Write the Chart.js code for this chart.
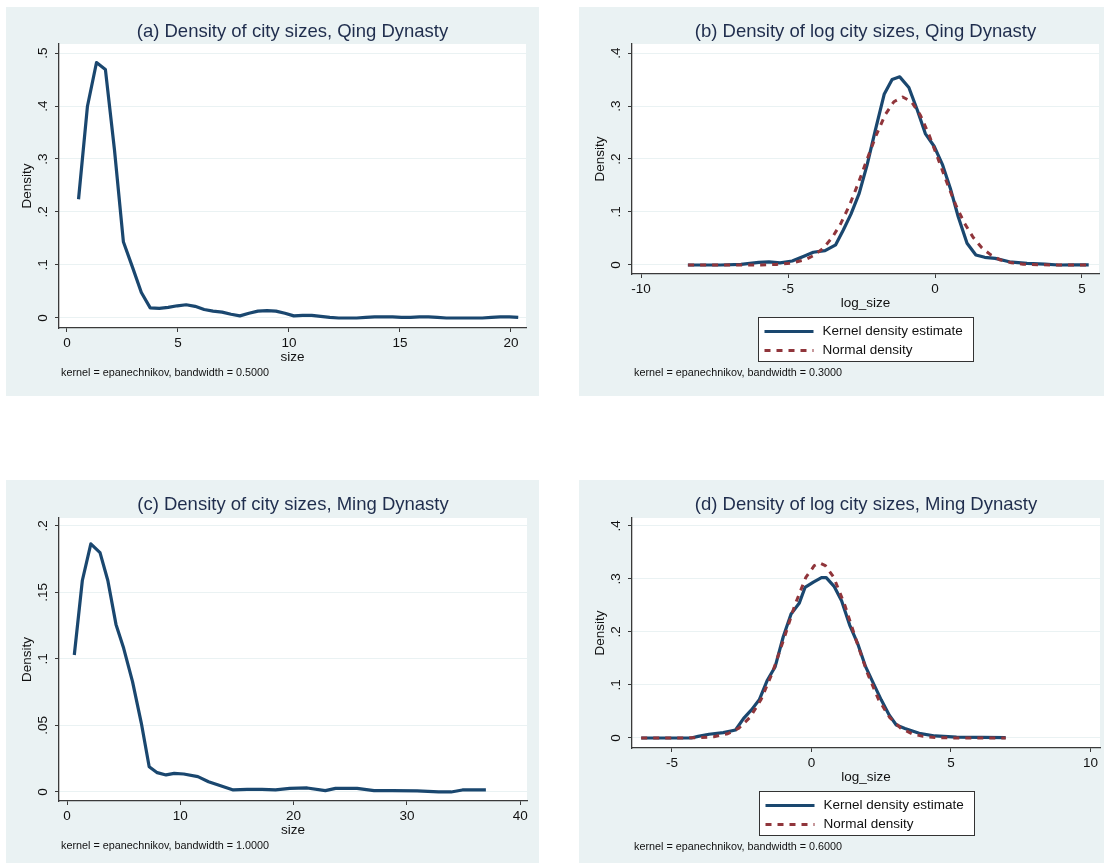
<!DOCTYPE html>
<html>
<head>
<meta charset="utf-8">
<title>Density of city sizes, Qing and Ming</title>
<script src="https://cdn.jsdelivr.net/npm/chart.js@4.4.1/dist/chart.umd.min.js"></script>
<style>
  body { margin: 0; background: #fff; }
  #page { position: relative; width: 1104px; height: 864px; }
  canvas { position: absolute; }
</style>
</head>
<body>
<div id="page">
  <canvas id="qingSize" width="533" height="389" style="left:6px;top:7px"></canvas>
  <canvas id="qingLog" width="525" height="389" style="left:579px;top:7px"></canvas>
  <canvas id="mingSize" width="533" height="383" style="left:6px;top:480px"></canvas>
  <canvas id="mingLog" width="525" height="383" style="left:579px;top:480px"></canvas>
</div>
<script>
// (a) Qing, city size
const qingSizeX = [0.52, 0.92, 1.33, 1.73, 2.14, 2.54, 2.95, 3.35, 3.75, 4.16, 4.56, 4.97, 5.37, 5.77, 6.18, 6.58, 6.99, 7.39, 7.79, 8.20, 8.60, 9.01, 9.41, 9.82, 10.22, 10.62, 11.03, 11.43, 11.84, 12.24, 12.65, 13.05, 13.46, 13.86, 14.26, 14.67, 15.07, 15.48, 15.88, 16.29, 16.69, 17.09, 17.50, 17.90, 18.31, 18.71, 19.12, 19.52, 19.93, 20.33];
const qingSizeDensity = [0.224, 0.399, 0.482, 0.469, 0.317, 0.144, 0.096, 0.048, 0.019, 0.018, 0.020, 0.023, 0.025, 0.022, 0.016, 0.013, 0.011, 0.007, 0.004, 0.009, 0.013, 0.014, 0.013, 0.009, 0.004, 0.005, 0.005, 0.003, 0.001, 0.000, 0.000, 0.000, 0.001, 0.002, 0.002, 0.002, 0.001, 0.001, 0.002, 0.002, 0.001, 0.000, 0.000, 0.000, 0.000, 0.000, 0.001, 0.002, 0.002, 0.001];
const qingSizeXTicks = [0, 5, 10, 15, 20];
const qingSizeYTicks = [0, 0.1, 0.2, 0.3, 0.4, 0.5];

// (b) Qing, log city size
const qingLogX = [-8.41, -7.93, -7.3, -6.6, -6.0, -5.65, -5.27, -4.86, -4.44, -4.14, -3.74, -3.38, -3.12, -2.86, -2.58, -2.31, -2.04, -1.73, -1.46, -1.2, -0.89, -0.6, -0.33, -0.03, 0.25, 0.52, 0.79, 1.09, 1.39, 1.69, 2.05, 2.53, 3.13, 3.73, 4.21, 4.69, 5.23];
const qingLogKernel = [0, 0, 0, 0.001, 0.005, 0.006, 0.004, 0.0075, 0.017, 0.024, 0.027, 0.038, 0.066, 0.096, 0.135, 0.189, 0.252, 0.322, 0.350, 0.355, 0.335, 0.292, 0.248, 0.224, 0.190, 0.145, 0.091, 0.041, 0.019, 0.0145, 0.0125, 0.006, 0.003, 0.0015, 0, 0.0003, 0.0003];
const qingNormX = [-8.4, -7.4, -6.4, -5.9, -5.4, -4.9, -4.4, -4.1, -3.8, -3.5, -3.2, -2.9, -2.6, -2.3, -2.0, -1.7, -1.4, -1.1, -0.8, -0.5, -0.2, 0.1, 0.4, 0.7, 1.0, 1.3, 1.6, 1.9, 2.2, 2.6, 3.0, 3.5, 4.0, 4.5, 5.2];
const qingNormal = [0, 0, 0, 0.0002, 0.001, 0.0033, 0.0102, 0.0186, 0.032, 0.0516, 0.0788, 0.114, 0.156, 0.201, 0.245, 0.283, 0.308, 0.317, 0.308, 0.283, 0.245, 0.201, 0.156, 0.114, 0.079, 0.052, 0.032, 0.019, 0.010, 0.0042, 0.0016, 0.0004, 0.0001, 0, 0];
const qingLogXTicks = [-10, -5, 0, 5];
const qingLogYTicks = [0, 0.1, 0.2, 0.3, 0.4];

// (c) Ming, city size
const mingSizeX = [0.64, 1.35, 2.1, 2.91, 3.6, 4.32, 5.0, 5.78, 6.56, 7.25, 7.96, 8.74, 9.46, 10.3, 11.55, 12.49, 13.42, 14.67, 15.9, 17.2, 18.4, 19.66, 21.2, 22.8, 23.7, 25.6, 27.1, 28.7, 30.9, 32.8, 33.9, 34.9, 36.97];
const mingSizeDensity = [0.103, 0.159, 0.1865, 0.180, 0.159, 0.126, 0.108, 0.083, 0.0516, 0.019, 0.0145, 0.0128, 0.014, 0.0135, 0.0115, 0.0077, 0.005, 0.0015, 0.0019, 0.002, 0.0015, 0.0027, 0.003, 0.001, 0.0027, 0.0027, 0.001, 0.001, 0.0008, 0, 0, 0.0015, 0.0015];
const mingSizeXTicks = [0, 10, 20, 30, 40];
const mingSizeYTicks = [0, 0.05, 0.1, 0.15, 0.2];

// (d) Ming, log city size
const mingLogX = [-6.1, -4.31, -4.06, -3.67, -3.16, -2.72, -2.43, -2.15, -1.87, -1.58, -1.3, -1.01, -0.73, -0.44, -0.23, 0.07, 0.36, 0.53, 0.82, 1.08, 1.37, 1.65, 1.94, 2.22, 2.5, 2.79, 3.04, 3.35, 3.86, 4.43, 5.2, 6.08, 6.96];
const mingLogKernel = [0, 0, 0.003, 0.007, 0.010, 0.015, 0.037, 0.053, 0.072, 0.109, 0.1345, 0.191, 0.234, 0.254, 0.284, 0.294, 0.3025, 0.3025, 0.2855, 0.259, 0.213, 0.179, 0.1345, 0.103, 0.072, 0.043, 0.0245, 0.018, 0.0088, 0.0038, 0.0015, 0.001, 0.0006];
const mingNormX = [-6.1, -5.0, -4.5, -4.0, -3.5, -3.0, -2.6, -2.2, -1.8, -1.4, -1.0, -0.6, -0.2, 0.1, 0.3, 0.5, 0.8, 1.2, 1.6, 2.0, 2.4, 2.8, 3.2, 3.6, 4.0, 4.5, 5.0, 5.5, 6.0, 6.96];
const mingNormal = [0, 0, 0.0001, 0.0006, 0.0024, 0.008, 0.0186, 0.039, 0.073, 0.123, 0.185, 0.250, 0.303, 0.325, 0.330, 0.325, 0.303, 0.250, 0.185, 0.123, 0.073, 0.039, 0.0186, 0.008, 0.0031, 0.0008, 0.0002, 0, 0, 0];
const mingLogXTicks = [-5, 0, 5, 10];
const mingLogYTicks = [0, 0.1, 0.2, 0.3, 0.4];

const KERNEL_COLOR = '#1a476f';
const NORMAL_COLOR = '#90353b';
const PANEL_BG = '#eaf2f3';
const GRID_COLOR = '#eaf2f3';
const AXIS_COLOR = '#3a3a3a';
const TEXT_COLOR = '#111';
const TITLE_COLOR = '#1f2d4d';
const FONT = '"Liberation Sans", Arial, sans-serif';

Chart.defaults.font.family = FONT;
Chart.defaults.color = TEXT_COLOR;

const toPoints = (xs, ys) => xs.map((x, i) => ({ x: x, y: ys[i] }));

// grey panel, white plot region, boxed legend and kernel note
const panelPlugin = {
    id: 'stataPanel',
    beforeDraw(chart) {
        const { ctx, chartArea: a } = chart;
        ctx.save();
        ctx.fillStyle = PANEL_BG;
        ctx.fillRect(0, 0, chart.width, chart.height);
        ctx.fillStyle = '#fff';
        ctx.fillRect(a.left, a.top, a.right - a.left, a.bottom - a.top);
        ctx.restore();
    },
    afterDraw(chart, args, opts) {
        const { ctx, chartArea: a } = chart;
        ctx.save();
        let noteY = a.bottom + 45;
        if (opts.legend) {
            const w = 215, h = 44;
            const left = Math.round((a.left + a.right) / 2 - w / 2) + 0.5;
            const top = Math.round(a.bottom + 43) + 0.5;
            ctx.fillStyle = '#fff';
            ctx.fillRect(left, top, w, h);
            ctx.strokeStyle = '#333';
            ctx.lineWidth = 1;
            ctx.strokeRect(left, top, w, h);
            chart.data.datasets.forEach((ds, i) => {
                const y = top + 14 + i * 19;
                ctx.strokeStyle = ds.borderColor;
                ctx.lineWidth = ds.borderWidth;
                ctx.setLineDash(ds.borderDash || []);
                ctx.beginPath();
                ctx.moveTo(left + 6, y);
                ctx.lineTo(left + 55, y);
                ctx.stroke();
                ctx.setLineDash([]);
                ctx.fillStyle = TEXT_COLOR;
                ctx.font = '13.5px ' + FONT;
                ctx.textBaseline = 'middle';
                ctx.fillText(ds.label, left + 64, y);
            });
            noteY = top + h + 12;
        }
        ctx.font = '10.8px ' + FONT;
        ctx.fillStyle = TEXT_COLOR;
        ctx.textBaseline = 'middle';
        ctx.fillText(opts.note, a.left + 2, noteY);
        ctx.restore();
    }
};

function kernelSet(xs, ys) {
    return { label: 'Kernel density estimate', data: toPoints(xs, ys), borderColor: KERNEL_COLOR, borderWidth: 3.2, order: 1 };
}
function normalSet(xs, ys) {
    return { label: 'Normal density', data: toPoints(xs, ys), borderColor: NORMAL_COLOR, borderWidth: 3, borderDash: [6, 6], order: 0 };
}

function densityChart(id, p) {
    return new Chart(document.getElementById(id), {
        type: 'line',
        data: { datasets: p.datasets },
        options: {
            responsive: false,
            animation: false,
            devicePixelRatio: 1,
            events: [],
            layout: { padding: { left: 13, top: 0, right: p.padRight, bottom: p.padBottom } },
            elements: {
                point: { radius: 0 },
                line: { tension: 0, borderJoinStyle: 'round' }
            },
            plugins: {
                legend: { display: false },
                tooltip: { enabled: false },
                title: {
                    display: true, text: p.title, fullSize: false, color: TITLE_COLOR,
                    font: { size: 18.5, weight: 'normal' },
                    padding: { top: 13.9, bottom: p.titleGap }
                },
                stataPanel: { note: p.note, legend: p.legend }
            },
            scales: {
                x: {
                    type: 'linear', min: p.xRange[0], max: p.xRange[1],
                    afterBuildTicks: s => { s.ticks = p.xTicks.map(v => ({ value: v })); },
                    afterFit: s => { s.height = 37; },
                    grid: { drawOnChartArea: false, tickLength: 4, tickColor: AXIS_COLOR },
                    border: { color: AXIS_COLOR, width: 1.3 },
                    ticks: { padding: 3.4, minRotation: 0, maxRotation: 0, font: { size: 13.5 }, callback: v => String(v) },
                    title: { display: true, text: p.xLabel, font: { size: 13.5 }, padding: 0 }
                },
                y: {
                    min: p.yRange[0], max: p.yRange[1],
                    afterBuildTicks: s => { s.ticks = p.yTicks.map(v => ({ value: v })); },
                    afterFit: s => { s.width = 40; },
                    grid: { color: GRID_COLOR, lineWidth: 1, tickLength: 4, tickColor: AXIS_COLOR },
                    border: { color: AXIS_COLOR, width: 1.3 },
                    ticks: {
                        padding: p.yLabelPad, minRotation: 90, maxRotation: 90, crossAlign: 'center',
                        font: { size: 13.5 },
                        callback: v => v === 0 ? '0' : String(v).replace(/^0\./, '.')
                    },
                    title: { display: true, text: 'Density', font: { size: 13.5 }, padding: 0 }
                }
            }
        },
        plugins: [panelPlugin]
    });
}

densityChart('qingSize', {
    title: '(a) Density of city sizes, Qing Dynasty',
    xLabel: 'size',
    note: 'kernel = epanechnikov, bandwidth = 0.5000',
    datasets: [kernelSet(qingSizeX, qingSizeDensity)],
    xTicks: qingSizeXTicks, yTicks: qingSizeYTicks,
    xRange: [-0.36, 20.68], yRange: [-0.0189, 0.517],
    padRight: 13, padBottom: 31, titleGap: 0.9, yLabelPad: 6.4, legend: false
});

densityChart('qingLog', {
    title: '(b) Density of log city sizes, Qing Dynasty',
    xLabel: 'log_size',
    note: 'kernel = epanechnikov, bandwidth = 0.3000',
    datasets: [kernelSet(qingLogX, qingLogKernel), normalSet(qingNormX, qingNormal)],
    xTicks: qingLogXTicks, yTicks: qingLogYTicks,
    xRange: [-10.31, 5.58], yRange: [-0.017, 0.417],
    padRight: 5, padBottom: 85, titleGap: 0.9, yLabelPad: 6.4, legend: true
});

densityChart('mingSize', {
    title: '(c) Density of city sizes, Ming Dynasty',
    xLabel: 'size',
    note: 'kernel = epanechnikov, bandwidth = 1.0000',
    datasets: [kernelSet(mingSizeX, mingSizeDensity)],
    xTicks: mingSizeXTicks, yTicks: mingSizeYTicks,
    xRange: [-0.71, 40.6], yRange: [-0.0068, 0.206],
    padRight: 12, padBottom: 25, titleGap: 1.9, yLabelPad: 2.6, legend: false
});

densityChart('mingLog', {
    title: '(d) Density of log city sizes, Ming Dynasty',
    xLabel: 'log_size',
    note: 'kernel = epanechnikov, bandwidth = 0.6000',
    datasets: [kernelSet(mingLogX, mingLogKernel), normalSet(mingNormX, mingNormal)],
    xTicks: mingLogXTicks, yTicks: mingLogYTicks,
    xRange: [-6.43, 10.34], yRange: [-0.0189, 0.415],
    padRight: 4, padBottom: 78, titleGap: 1.9, yLabelPad: 6.4, legend: true
});
</script>
</body>
</html>
